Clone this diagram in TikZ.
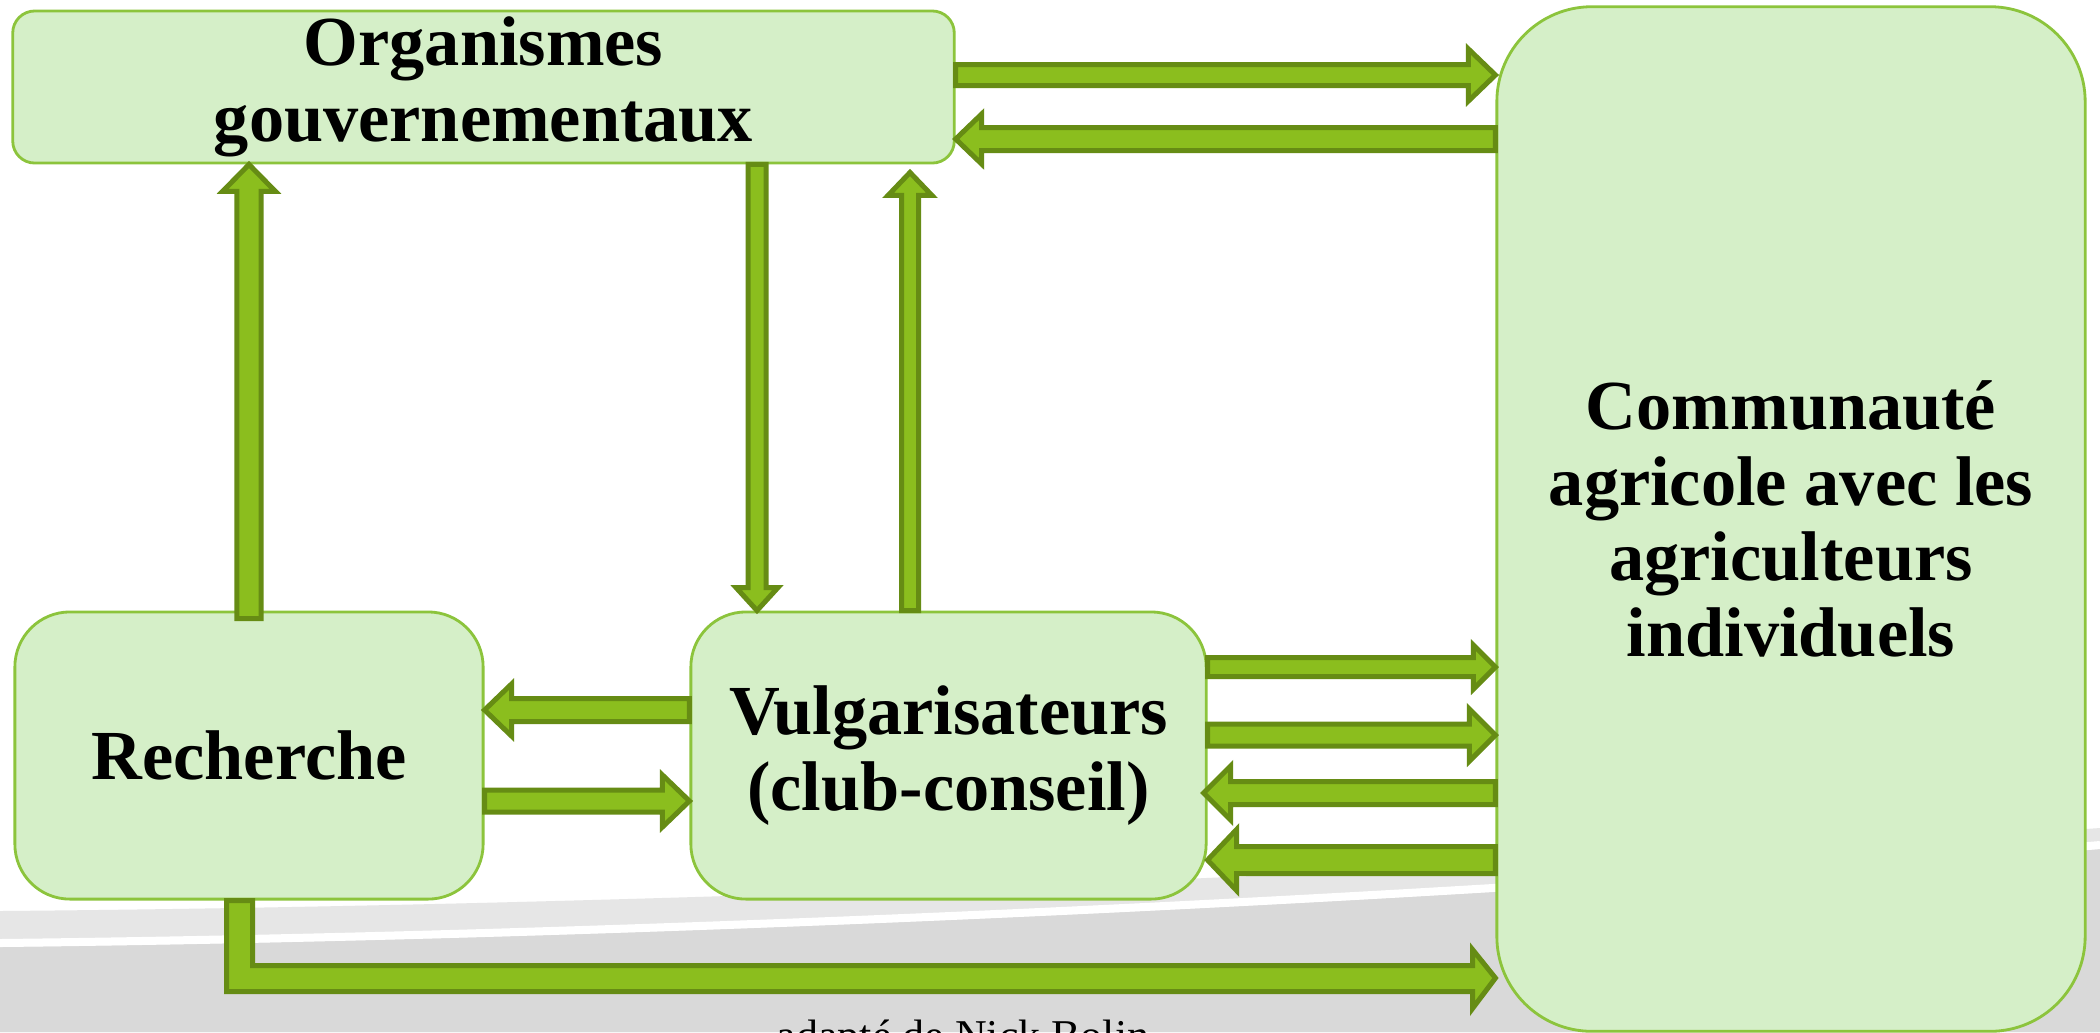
\documentclass[tikz,border=0pt]{standalone}
\usepackage{fontspec}
\setmainfont{Liberation Serif}
\usetikzlibrary{calc}
\definecolor{boxfill}{HTML}{D5EFC8}
\definecolor{boxline}{HTML}{8CC43C}
\definecolor{arrowfill}{HTML}{8BBE1E}
\definecolor{arrowline}{HTML}{668C14}
\definecolor{bglight}{HTML}{E6E6E6}
\definecolor{bgdark}{HTML}{D9D9D9}
\tikzset{
  bloc/.style={draw=boxline, fill=boxfill, line width=0.8pt, inner sep=0pt,
    align=center, font=\fontsize{20}{21.5}\selectfont\bfseries},
  flowarrow/.style={draw=arrowline, fill=arrowfill, line width=0.05cm, line join=miter}
}
\newcommand\flowarrow[5]{%
  \coordinate (fa-s) at (#1);
  \coordinate (fa-t) at (#2);
  \coordinate (fa-h) at ($(fa-t)!#5!(fa-s)$);
  \path[flowarrow] ($(fa-s)!#3!90:(fa-t)$) -- ($(fa-h)!#3!-90:(fa-s)$)
    -- ($(fa-h)!#4!-90:(fa-s)$) -- (fa-t) -- ($(fa-h)!#4!90:(fa-s)$)
    -- ($(fa-h)!#3!90:(fa-s)$) -- ($(fa-s)!#3!-90:(fa-t)$) -- cycle;
}
\begin{document}
\begin{tikzpicture}[x=0.01cm, y=-0.01cm]
      \useasboundingbox (0,0) rectangle (2100,1032);
      \fill[white] (0,0) rectangle (2100,1032);
      \fill[bglight] (0,1032) -- (0,911) .. controls (700,905) and (1500,870) .. (2100,828) -- (2100,1032) -- cycle;
      \fill[bgdark] (0,1032) -- (0,947) .. controls (700,939) and (1500,899) .. (2100,849) -- (2100,1032) -- cycle;
      \draw[white, line width=0.08cm] (0,943) .. controls (700,935) and (1500,895) .. (2100,845);
      \path
        (483.5,87) node[bloc, minimum width=9.41cm, minimum height=1.52cm, rounded corners=0.22cm] (org) {Organismes\\gouvernementaux}
        (1791,519) node[bloc, minimum width=5.88cm, minimum height=10.24cm, rounded corners=0.95cm] (comm) {Communauté\\agricole avec les\\agriculteurs\\individuels}
        (249,755.5) node[bloc, minimum width=4.68cm, minimum height=2.87cm, rounded corners=0.55cm] (rech) {Recherche}
        (948.5,755.5) node[bloc, minimum width=5.15cm, minimum height=2.87cm, rounded corners=0.55cm] (vulg) {Vulgarisateurs\\(club-conseil)};
      \node[font=\fontsize{12.5}{15}\selectfont, anchor=base] (src) at (963,1050) {adapté de Nick Bolin};
      \begin{scope}
        \flowarrow{org.east |- 0,75}{comm.west |- 0,75}{0.105cm}{0.26cm}{0.27cm}
        \flowarrow{comm.west |- 0,139}{org.east |- 0,139}{0.115cm}{0.25cm}{0.26cm}
        \flowarrow{$(rech.north)+(0,8)$}{org.south -| 249,0}{0.12cm}{0.265cm}{0.27cm}
        \flowarrow{org.south -| 757,0}{vulg.north -| 757,0}{0.09cm}{0.21cm}{0.23cm}
        \flowarrow{vulg.north -| 910,0}{$(org.south -| 910,0)+(0,8)$}{0.085cm}{0.22cm}{0.23cm}
        \flowarrow{vulg.west |- 0,710}{rech.east |- 0,710}{0.115cm}{0.26cm}{0.27cm}
        \flowarrow{rech.east |- 0,801}{vulg.west |- 0,801}{0.11cm}{0.26cm}{0.27cm}
        \flowarrow{vulg.east |- 0,667}{comm.west |- 0,667}{0.095cm}{0.22cm}{0.22cm}
        \flowarrow{vulg.east |- 0,735}{comm.west |- 0,735}{0.11cm}{0.26cm}{0.26cm}
        \flowarrow{comm.west |- 0,793}{$(vulg.east |- 0,793)+(-4,0)$}{0.115cm}{0.27cm}{0.27cm}
        \flowarrow{comm.west |- 0,860}{vulg.east |- 0,860}{0.135cm}{0.305cm}{0.29cm}
        \path[flowarrow] (rech.south -| 226.5,0) -- (rech.south -| 252.5,0) -- (252.5,965.5) -- (1472.5,965.5)
          -- (1472.5,949.5) -- (comm.west |- 0,978) -- (1472.5,1008.5) -- (1472.5,991.5) -- (226.5,991.5) -- cycle;
      \end{scope}
    \end{tikzpicture}
\end{document}
